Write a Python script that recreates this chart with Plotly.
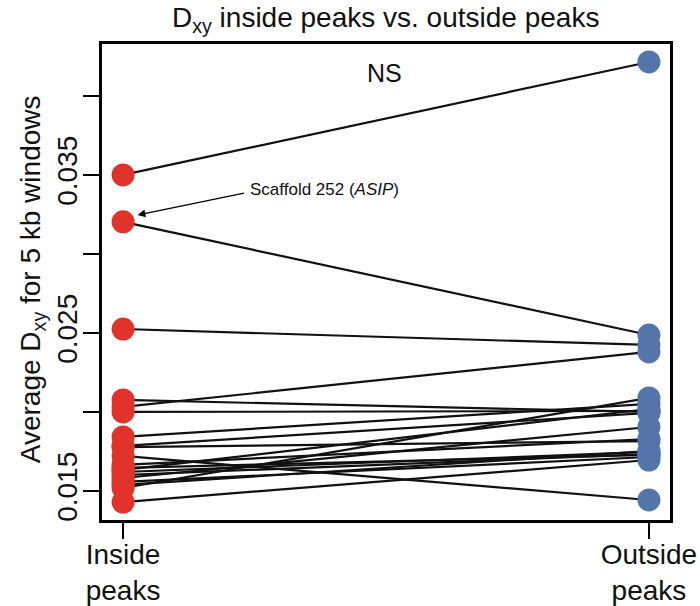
import plotly.graph_objects as go

# Data: paired Dxy values (inside peaks -> outside peaks)
inside_peaks = [0.03500, 0.03203, 0.02525, 0.02076, 0.02032, 0.02000, 0.01842,
                0.01785, 0.01778, 0.01722, 0.01665, 0.01646, 0.01633, 0.01620,
                0.01601, 0.01582, 0.01557, 0.01538, 0.01519, 0.01430]
outside_peaks = [0.04215, 0.02487, 0.02424, 0.02000, 0.02380, 0.02006, 0.02051,
                 0.01994, 0.01816, 0.01443, 0.01829, 0.01728, 0.02019, 0.01747,
                 0.01734, 0.01905, 0.01715, 0.01753, 0.02089, 0.01696]
group_pos = [1, 2]
group_labels = ["Inside<br>peaks", "Outside<br>peaks"]
y_tickvals = [0.015, 0.025, 0.035]
y_ticktext = ["0.015", "0.025", "0.035"]
y_minor_tickvals = [0.020, 0.030, 0.040]

FONT = "Liberation Sans, Arial, Helvetica, sans-serif"
RED = "#E1322C"
BLUE = "#5375AC"

lx, ly = [], []
for a, b in zip(inside_peaks, outside_peaks):
    lx += [group_pos[0], group_pos[1], None]
    ly += [a, b, None]

fig = go.Figure()
fig.add_trace(go.Scatter(x=lx, y=ly, mode="lines",
                         line=dict(color="#111111", width=2.2), hoverinfo="skip"))
fig.add_trace(go.Scatter(x=[group_pos[0]] * len(inside_peaks), y=inside_peaks,
                         mode="markers", marker=dict(color=RED, size=23, line=dict(width=0))))
fig.add_trace(go.Scatter(x=[group_pos[1]] * len(outside_peaks), y=outside_peaks,
                         mode="markers", marker=dict(color=BLUE, size=23, line=dict(width=0))))

fig.update_layout(
    width=700, height=606,
    margin=dict(l=101, r=29, t=43, b=85, autoexpand=False),
    paper_bgcolor="white", plot_bgcolor="white",
    showlegend=False,
    font=dict(family=FONT, size=28, color="#111111"),
    title=dict(text="D<sub>xy</sub> inside peaks vs. outside peaks",
               x=0.551, xanchor="center", y=0.972, yanchor="middle",
               yref="container", font=dict(size=28, family=FONT)),
)
fig.update_xaxes(range=[0.958, 2.042], tickvals=group_pos, ticktext=group_labels,
                 automargin=False, ticklabelstandoff=-9,
                 showgrid=False, zeroline=False, showline=True, mirror=True,
                 linecolor="black", linewidth=2, ticks="outside", ticklen=16,
                 tickwidth=1.5, tickcolor="black", tickfont=dict(size=28))
fig.update_yaxes(range=[0.0131, 0.04335], tickvals=y_tickvals, ticktext=y_ticktext,
                 automargin=False, tickangle=-90, ticklabelstandoff=-5,
                 showgrid=False, zeroline=False, showline=True, mirror=True,
                 linecolor="black", linewidth=2, ticks="outside", ticklen=16,
                 tickwidth=1.5, tickcolor="black", tickfont=dict(size=28),
                 minor=dict(tickvals=y_minor_tickvals, ticks="outside", ticklen=16,
                            tickwidth=1.5, tickcolor="black", showgrid=False))

# plot frame
fig.add_shape(type="rect", xref="paper", yref="paper", x0=0, y0=0, x1=1, y1=1,
              line=dict(color="black", width=2), fillcolor="rgba(0,0,0,0)", layer="above")

fig.add_annotation(text="Average D<sub>xy</sub> for 5 kb windows", xref="paper", yref="paper",
                   x=-0.12, y=0.505, xanchor="center", yanchor="middle", textangle=-90,
                   showarrow=False, font=dict(size=28, family=FONT))
fig.add_annotation(text="NS", xref="paper", yref="paper", x=0.497, y=0.937,
                   xanchor="center", yanchor="middle", showarrow=False,
                   font=dict(size=25, family=FONT))
fig.add_annotation(text="Scaffold 252 (<i>ASIP</i>)", xref="x", yref="y",
                   x=1.237, y=0.03405, xanchor="left", yanchor="middle",
                   showarrow=False, font=dict(size=17, family=FONT))
fig.add_annotation(text="", x=1.0275, y=0.03247, xref="x", yref="y",
                   ax=108, ay=-22, showarrow=True, arrowhead=2, arrowsize=1.2,
                   arrowwidth=1.3, arrowcolor="black")

fig.write_html("out.html", config={"displayModeBar": False},
               post_script="document.body.style.margin='0';")
